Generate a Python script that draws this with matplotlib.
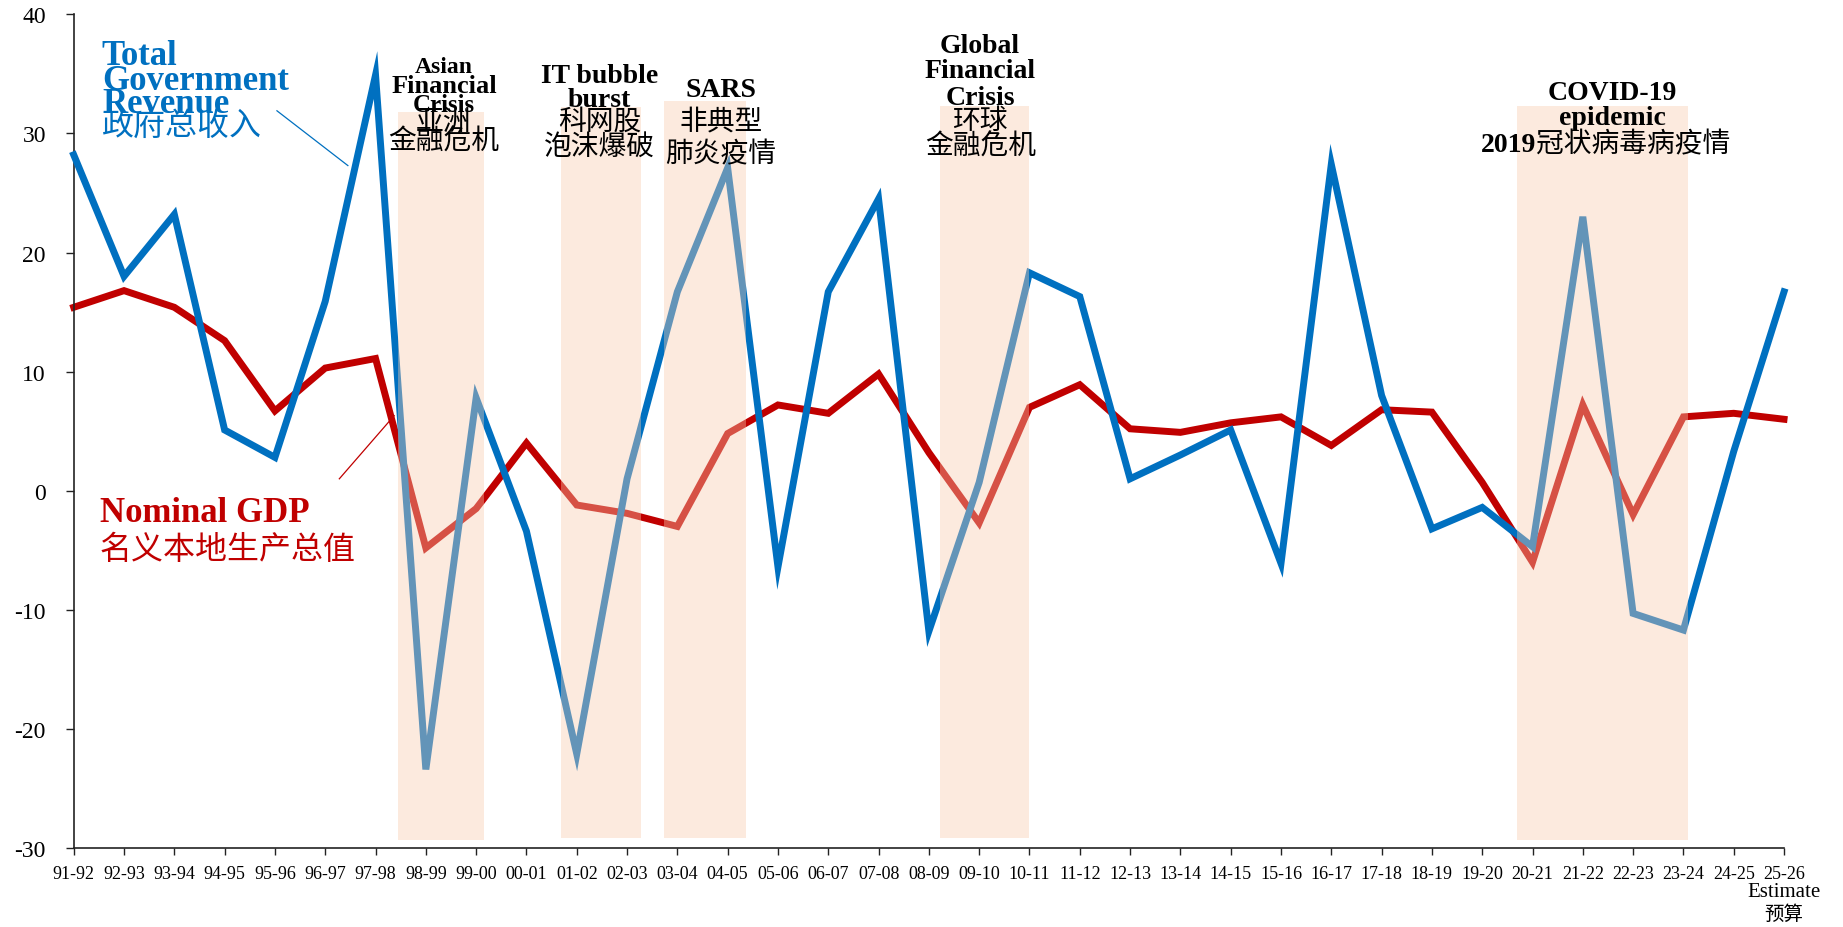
import matplotlib
matplotlib.use("Agg")
import matplotlib.pyplot as plt
from matplotlib.transforms import blended_transform_factory

# 财年
years = [
    "91-92", "92-93", "93-94", "94-95", "95-96", "96-97", "97-98", "98-99",
    "99-00", "00-01", "01-02", "02-03", "03-04", "04-05", "05-06", "06-07",
    "07-08", "08-09", "09-10", "10-11", "11-12", "12-13", "13-14", "14-15",
    "15-16", "16-17", "17-18", "18-19", "19-20", "20-21", "21-22", "22-23",
    "23-24", "24-25", "25-26",
]

# 政府总收入 (按年变动 %)
revenue = [
    28.2, 18.0, 23.2, 5.1, 2.8, 15.9, 34.9, -23.4, 7.8, -3.4, -22.1, 1.0,
    16.7, 27.1, -6.4, 16.7, 24.5, -11.8, 0.7, 18.3, 16.3, 1.0, 3.0, 5.1,
    -6.1, 27.4, 8.0, -3.2, -1.4, -4.7, 23.0, -10.3, -11.7, 3.3, 16.7,
]

# 名义本地生产总值 (按年变动 %)
gdp = [
    15.4, 16.8, 15.4, 12.6, 6.7, 10.3, 11.1, -4.8, -1.5, 4.0, -1.2, -1.9,
    -3.0, 4.8, 7.2, 6.5, 9.8, 3.2, -2.7, 7.0, 8.9, 5.2, 4.9, 5.7,
    6.2, 3.8, 6.8, 6.6, 0.7, -6.0, 7.2, -2.0, 6.2, 6.5, 6.0,
]

# 危机阴影区间 (x 起点, x 终点, 上沿, 下沿)
crisis_x0 = [6.45, 9.69, 11.74, 17.23, 28.70]
crisis_x1 = [8.16, 11.28, 13.37, 19.00, 32.10]
crisis_top = [31.8, 32.2, 32.7, 32.3, 32.3]
crisis_bottom = [-29.3, -29.2, -29.2, -29.2, -29.3]

BLUE = "#0070C0"
RED = "#C00000"
SHADE = "#F8CBAD"
SERIF = "Liberation Serif"
CJK = "Noto Sans CJK SC"

plt.rcParams["axes.unicode_minus"] = False


def label_lines(ax, x, lines, **kw):
    # lines: [(文字, 基线 y, 字体, 粗细, 字号)]
    for text, y, family, weight, size in lines:
        ax.text(x, y, text, ha="center", va="baseline", family=family,
                fontweight=weight, fontsize=size, color="black", **kw)


def main():
    fig = plt.figure(figsize=(18.43, 9.28), dpi=100)
    ax = fig.add_axes([0.0400, 0.0851, 0.9280, 0.8984])

    x = list(range(len(years)))
    ax.plot(x, gdp, color=RED, lw=5, solid_joinstyle="miter", zorder=2,
            clip_on=False)
    ax.plot(x, revenue, color=BLUE, lw=5, solid_joinstyle="miter", zorder=3,
            clip_on=False)

    # 阴影盖在线条上面
    for x0, x1, top, bot in zip(crisis_x0, crisis_x1, crisis_top, crisis_bottom):
        ax.fill_between([x0, x1], bot, top, color=SHADE, alpha=0.4, lw=0,
                        zorder=4)

    ax.set_xlim(0, len(years) - 1)
    ax.set_ylim(-30, 40)
    ax.set_yticks(range(-30, 41, 10))
    ax.set_xticks(x)
    ax.set_xticklabels(years)

    for side in ["top", "right"]:
        ax.spines[side].set_visible(False)
    for side in ["left", "bottom"]:
        ax.spines[side].set_color("#222222")
        ax.spines[side].set_linewidth(1.2)

    ax.tick_params(axis="y", direction="out", length=6, width=1.0, pad=14,
                   labelsize=17, colors="#222222")
    ax.tick_params(axis="x", direction="out", length=5, width=1.0, pad=7,
                   labelsize=13, colors="#222222")
    for lab in ax.get_xticklabels() + ax.get_yticklabels():
        lab.set_family(SERIF)
        lab.set_color("black")

    # 最后一年为预算
    tr = blended_transform_factory(ax.transData, fig.transFigure)
    ax.text(len(years) - 1, 1 - 897 / 928, "Estimate", transform=tr,
            ha="center", va="baseline", family=SERIF, fontsize=15)
    ax.text(len(years) - 1, 1 - 920 / 928, "预算", transform=tr,
            ha="center", va="baseline", family=CJK, fontsize=14)

    # 图例文字
    for text, y, fam, w, s in [
        ("Total", 35.83, SERIF, "bold", 25),
        ("Government", 33.73, SERIF, "bold", 25),
        ("Revenue", 31.80, SERIF, "bold", 25),
        ("政府总收入", 29.90, CJK, "normal", 23),
    ]:
        ax.text(0.56, y, text, ha="left", va="baseline", family=fam,
                fontweight=w, fontsize=s, color=BLUE, zorder=5)
    ax.plot([4.04, 5.45], [31.9, 27.3], color=BLUE, lw=0.9, zorder=5)

    for text, y, fam, w, s in [
        ("Nominal GDP", -2.55, SERIF, "bold", 25),
        ("名义本地生产总值", -5.65, CJK, "normal", 23),
    ]:
        ax.text(0.52, y, text, ha="left", va="baseline", family=fam,
                fontweight=w, fontsize=s, color=RED, zorder=5)
    ax.plot([5.28, 6.37], [1.0, 6.3], color=RED, lw=0.9, zorder=5)

    # 危机标注
    label_lines(ax, 7.36, [
        ("Asian", 35.16, SERIF, "bold", 17),
        ("Financial", 33.48, SERIF, "bold", 19),
        ("Crisis", 31.88, SERIF, "bold", 18),
        ("亚洲", 30.36, CJK, "normal", 20),
        ("金融危机", 28.68, CJK, "normal", 20),
    ], zorder=6)
    label_lines(ax, 10.45, [
        ("IT bubble", 34.31, SERIF, "bold", 20),
        ("burst", 32.30, SERIF, "bold", 20),
        ("科网股", 30.36, CJK, "normal", 20),
        ("泡沫爆破", 28.26, CJK, "normal", 20),
    ], zorder=6)
    label_lines(ax, 12.87, [
        ("SARS", 33.14, SERIF, "bold", 20),
        ("非典型", 30.45, CJK, "normal", 20),
        ("肺炎疫情", 27.68, CJK, "normal", 20),
    ], zorder=6)
    label_lines(ax, 18.02, [
        ("Global", 36.83, SERIF, "bold", 20),
        ("Financial", 34.73, SERIF, "bold", 20),
        ("Crisis", 32.46, SERIF, "bold", 20),
        ("环球", 30.45, CJK, "normal", 20),
        ("金融危机", 28.26, CJK, "normal", 20),
    ], zorder=6)
    label_lines(ax, 30.58, [
        ("COVID-19", 32.89, SERIF, "bold", 20),
        ("epidemic", 30.79, SERIF, "bold", 20),
    ], zorder=6)
    ax.text(29.07, 28.5, "2019", ha="right", va="baseline", family=SERIF,
            fontweight="bold", fontsize=20, zorder=6)
    ax.text(29.07, 28.5, "冠状病毒病疫情", ha="left", va="baseline",
            family=CJK, fontsize=20, zorder=6)

    fig.savefig("out.png", dpi=100)
    plt.close(fig)


if __name__ == "__main__":
    main()
